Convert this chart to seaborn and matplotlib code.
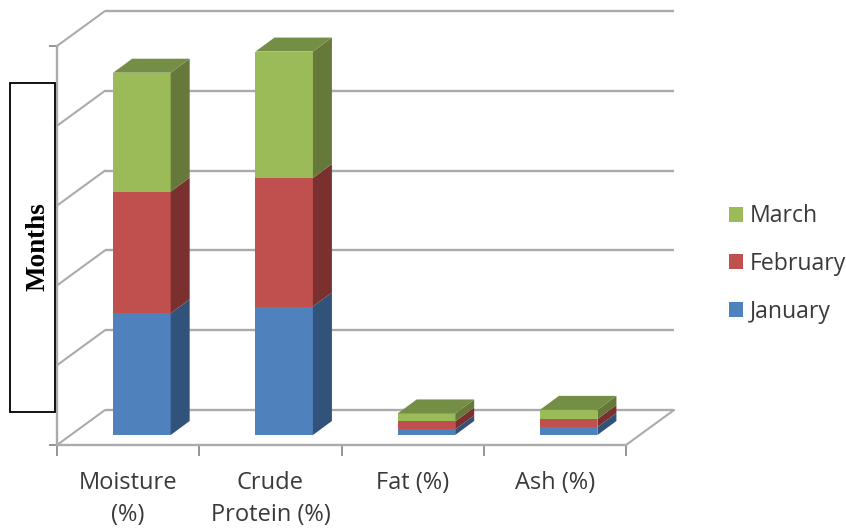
import matplotlib
matplotlib.use("Agg")
import matplotlib.pyplot as plt
import seaborn as sns
from matplotlib.patches import Rectangle
from matplotlib.transforms import Affine2D

categories = ["Moisture\n(%)", "Crude\nProtein (%)", "Fat (%)", "Ash (%)"]
months = ["January", "February", "March"]
january = [30.5, 32.2, 1.4, 2.0]
february = [30.5, 32.2, 2.0, 2.0]
march = [29.8, 31.7, 2.0, 2.3]
series = [january, february, march]
y_ticks = [0, 20, 40, 60, 80, 100]

front_colors = ["#4F81BD", "#C0504D", "#9BBB59"]
side_colors = ["#31527B", "#7B3030", "#66793A"]
top_color = "#748E45"
grid_color = "#ABABAB"

sns.set_style("white")
plt.rcParams["font.family"] = ["Open Sans", "DejaVu Sans"]

W, H = 846, 529
fig = plt.figure(figsize=(W / 100, H / 100), dpi=100)
ax = fig.add_axes([57 / W, (H - 445) / H, 569 / W, 399 / H])
ax.patch.set_alpha(0)

px_x = 569 / 4      # pixels per category
px_y = 399 / 100    # pixels per value unit
wall_dx, wall_dy = 48 / px_x, 35 / px_y
bar_dx, bar_dy = 19 / px_x, 14 / px_y
bar_width = 57.5 / px_x

# bars stand slightly inside the floor, not on the front edge
inset = Affine2D().translate(13.8, 10)
bar_trans = ax.transData + inset

# back wall and floor lines
for v in y_ticks:
    ax.plot([-0.5 + wall_dx, 3.5 + wall_dx], [v + wall_dy] * 2, color=grid_color,
            lw=1.7, clip_on=False, zorder=1, solid_capstyle="butt")
    ax.plot([-0.5, -0.5 + wall_dx], [v, v + wall_dy], color=grid_color,
            lw=1.5, clip_on=False, zorder=1)
ax.plot([3.5, 3.5 + wall_dx], [0, wall_dy], color=grid_color, lw=1.5,
        clip_on=False, zorder=1)

# front faces of the stacks
bottoms = [0.0] * len(categories)
for name, values, color in zip(months, series, front_colors):
    sns.barplot(x=categories, y=values, bottom=bottoms, color=color, width=bar_width,
                saturation=1, label=name, ax=ax, zorder=3, legend=False)
    bottoms = [b + v for b, v in zip(bottoms, values)]
for patch in ax.patches:
    patch.set_transform(bar_trans)
    patch.set_clip_on(False)
    patch.set_linewidth(0)

# side faces and the top cap give the stacks their depth
half = bar_width / 2
for i in range(len(categories)):
    base = 0.0
    xr = i + half
    for values, side in zip(series, side_colors):
        top = base + values[i]
        ax.fill([xr, xr + bar_dx, xr + bar_dx, xr],
                [base, base + bar_dy, top + bar_dy, top],
                color=side, lw=0, transform=bar_trans, clip_on=False, zorder=3)
        base = top
    xl = i - half
    ax.fill([xl, xr, xr + bar_dx, xl + bar_dx],
            [base, base, base + bar_dy, base + bar_dy],
            color=top_color, lw=0, transform=bar_trans, clip_on=False, zorder=3)

ax.set_xlim(-0.5, 3.5)
ax.set_ylim(0, 100)
ax.set_yticks(y_ticks)
ax.set_yticklabels([])
ax.set_xticks([-0.5, 0.5, 1.5, 2.5, 3.5])
ax.set_xticklabels([])
ax.set_xticks(range(4), categories, minor=True, linespacing=1.45,
              fontsize=17, color="#3A3A3A")
ax.tick_params(axis="x", which="major", length=8, width=1.3, color="#8C8C8C", bottom=True)
ax.tick_params(axis="x", which="minor", length=0, pad=18.5, bottom=False)
ax.tick_params(axis="y", which="major", length=6, width=1.3, color="#8C8C8C", left=True)
for side in ("top", "right"):
    ax.spines[side].set_visible(False)
for side in ("left", "bottom"):
    ax.spines[side].set_color(grid_color)
    ax.spines[side].set_linewidth(1.7)

# legend lists the stack from top to bottom
month_handles = [Rectangle((0, 0), 1, 1, color=c, lw=0) for c in front_colors]
fig.legend(month_handles[::-1], months[::-1], loc="center left",
           bbox_to_anchor=(729 / W, 1 - 264 / H), frameon=False, fontsize=16.6,
           labelcolor="#3A3A3A", handlelength=0.61, handleheight=0.61,
           handletextpad=0.3, labelspacing=1.03, borderpad=0, borderaxespad=0)

# boxed axis caption
fig.add_artist(Rectangle((9.5 / W, 1 - 412 / H), 45.5 / W, 329 / H,
                         transform=fig.transFigure, facecolor="white",
                         edgecolor="black", lw=1.3, zorder=5))
fig.text(38 / W, 1 - 247 / H, "Months", rotation=90, ha="center", va="center",
         family="Liberation Serif", weight="bold", fontsize=19.5, color="black", zorder=6)

fig.savefig("out.png", dpi=100, facecolor="white")
